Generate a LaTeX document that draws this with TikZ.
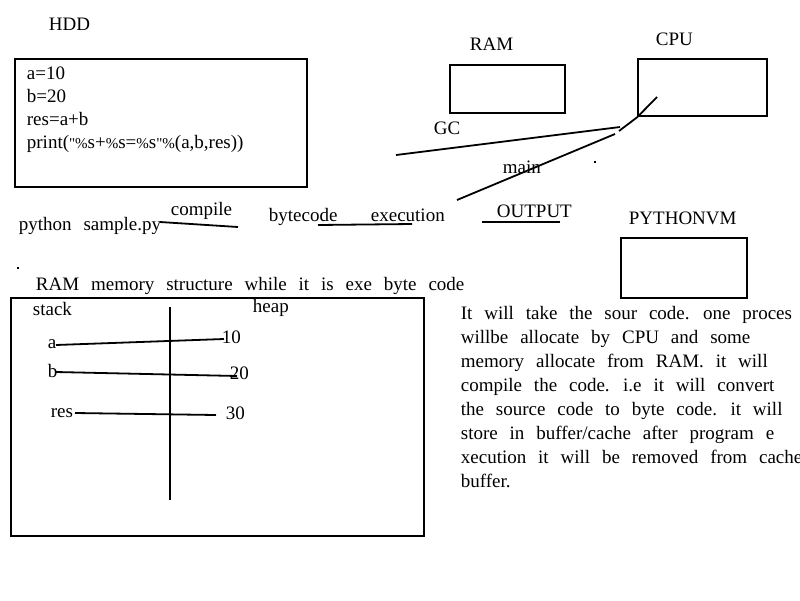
\documentclass[tikz,border=0pt]{standalone}
\usepackage{fontspec}
\setmainfont{Liberation Serif}[WordSpace=2.5]
\newfontfamily\codefont{Liberation Serif}[Ligatures=ResetAll]
\usepackage{tikz}
\usetikzlibrary{positioning}

\newcommand{\smq}{{\codefont\fontsize{15}{23}\selectfont"}}
\newcommand{\smp}{{\codefont\fontsize{15}{23}\selectfont\%}}

\begin{document}
\begin{tikzpicture}[x=1pt,y=-1pt,line width=1.8pt,
		every node/.style={inner sep=0pt,font=\fontsize{19}{23}\selectfont},
		box/.style={draw,line width=2.4pt,anchor=north west},
		lbl/.style={anchor=base west}]
		\useasboundingbox (0,0) rectangle (800,600);
		\begin{scope}
			% top part
			\node(hddlbl) [lbl] at (48,30) {HDD};
			\node(hdd) [box,minimum width=292pt,minimum height=128pt] at (14,58) {};
			\node(code) [lbl,align=left] at (26,148) {a=10\\b=20\\res=a+b\\print(\smq\smp s+\smp s=\smp s\smq\smp(a,b,res))};
			\node(ramlbl) [lbl] at (469,50) {RAM};
			\node(ram) [box,minimum width=115pt,minimum height=48pt] at (449,64) {};
			\node(cpulbl) [lbl] at (655,45) {CPU};
			\node(cpu) [box,minimum width=129pt,minimum height=57pt] at (637,58) {};
			\node(gc) [lbl] at (433,134) {GC};
			\node(main) [lbl] at (502,173) {main};
			\node(pvmlbl) [lbl] at (628,224) {PYTHONVM};
			\node(pvm) [box,minimum width=126pt,minimum height=60pt] at (620,237) {};
			\node(py) [lbl] at (18,230) {python  sample.py};
			\node(compile) [lbl] at (170,215) {compile};
			\node(bytecode) [lbl] at (268,221) {bytecode};
			\node(execution) [lbl] at (370,221) {execution};
			\node(output) [lbl] at (496,217) {OUTPUT};
			\coordinate(c1) at (160,222);
			\coordinate(c2) at (238,227);
			\coordinate(b1) at (318,225);
			\coordinate(b2) at (412,224);
			\coordinate(o1) at (482,222);
			\coordinate(o2) at (560,222);
			\coordinate(cpuin) at (657,97);
			\coordinate(cpuout) at (619,131);
			\coordinate(gc1) at (620,127);
			\coordinate(gc2) at (396,155);
			\coordinate(m1) at (615,134);
			\coordinate(m2) at (457,200);
			\draw (c1) -- (c2);
			\draw (b1) -- (b2);
			\draw (o1) -- (o2);
			\draw (cpuin) -- (cpu.south west) -- (cpuout);
			\draw (gc1) -- (gc2);
			\draw (m1) -- (m2);
			\fill (594,161) rectangle (596,163);
			\fill (17,267) rectangle (19,269);
		\end{scope}
		\begin{scope}
			% RAM memory structure
			\node(title) [lbl] at (35,290) {RAM memory structure while it is exe byte code};
			\node(mem) [box,minimum width=413pt,minimum height=238pt] at (10,297) {};
			\node(stack) [lbl] at (32,315) {stack};
			\node(heap) [lbl] at (252,312) {heap};
			\coordinate(top) at (170,307);
			\coordinate(bot) at (170,500);
			\draw (top) -- (bot);
			\node(a) [lbl] at (47,348) {a};
			\node(b) [lbl] at (47,377) {b};
			\node(res) [lbl] at (50,417) {res};
			\node(v10) [lbl] at (221,343) {10};
			\node(v20) [lbl] at (229,379) {20};
			\node(v30) [lbl] at (225,419) {30};
			\coordinate(a1) at (56,345);
			\coordinate(a2) at (224,339);
			\coordinate(bb1) at (56,372);
			\coordinate(bb2) at (237,376);
			\coordinate(r1) at (75,413);
			\coordinate(r2) at (216,415);
			\draw (a1) -- (a2);
			\draw (bb1) -- (bb2);
			\draw (r1) -- (r2);
		\end{scope}
		% explanation
		\node(note) [lbl,align=left,font=\fontsize{19}{24}\selectfont] at (460,487) {It will take the sour code. one proces\\willbe allocate by CPU and some\\memory allocate from RAM. it will\\compile the code. i.e it will convert\\the source code to byte code. it will\\store in buffer/cache after program e\\xecution it will be removed from cache\\buffer.};
	\end{tikzpicture}
\end{document}
